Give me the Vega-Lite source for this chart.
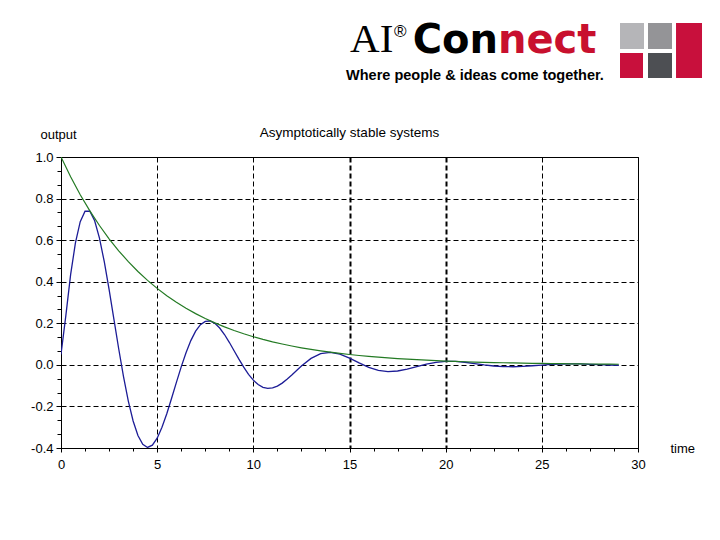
{
  "$schema": "https://vega.github.io/schema/vega-lite/v6.json",
  "width": 577,
  "height": 291,
  "autosize": "none",
  "padding": {"left": 61, "top": 157, "right": 82, "bottom": 92},
  "background": "white",
  "config": {
    "view": {"stroke": "black", "strokeWidth": 1},
    "axis": {
      "labelFont": "Liberation Sans", "labelFontSize": 13, "labelColor": "black",
      "domainColor": "black", "tickColor": "black", "gridColor": "black",
      "gridDash": [5, 3], "gridOpacity": 1, "titleFont": "Liberation Sans",
      "titleFontSize": 13, "titleFontWeight": "normal", "titleColor": "black"
    }
  },
  "datasets": {
    "blue": [
      {"time": 0, "output": 0.05}, {"time": 0.25, "output": 0.2353}, {"time": 0.5, "output": 0.4338},
      {"time": 0.75, "output": 0.5867}, {"time": 1.0, "output": 0.6889}, {"time": 1.25, "output": 0.7391},
      {"time": 1.5, "output": 0.739}, {"time": 1.75, "output": 0.6934}, {"time": 2.0, "output": 0.6095},
      {"time": 2.25, "output": 0.4961}, {"time": 2.5, "output": 0.363}, {"time": 2.75, "output": 0.2202},
      {"time": 3.0, "output": 0.0774}, {"time": 3.25, "output": -0.0565}, {"time": 3.5, "output": -0.1742},
      {"time": 3.75, "output": -0.27}, {"time": 4.0, "output": -0.34}, {"time": 4.25, "output": -0.3825},
      {"time": 4.5, "output": -0.3974}, {"time": 4.75, "output": -0.3864}, {"time": 5.0, "output": -0.3528},
      {"time": 5.25, "output": -0.3005}, {"time": 5.5, "output": -0.2349}, {"time": 5.75, "output": -0.1609},
      {"time": 6.0, "output": -0.0842}, {"time": 6.25, "output": -0.0095}, {"time": 6.5, "output": 0.0586},
      {"time": 6.75, "output": 0.1166}, {"time": 7.0, "output": 0.162}, {"time": 7.25, "output": 0.1931},
      {"time": 7.5, "output": 0.2093}, {"time": 7.75, "output": 0.2111}, {"time": 8.0, "output": 0.1998},
      {"time": 8.25, "output": 0.1772}, {"time": 8.5, "output": 0.1459}, {"time": 8.75, "output": 0.1086},
      {"time": 9.0, "output": 0.0681}, {"time": 9.25, "output": 0.0274}, {"time": 9.5, "output": -0.0112},
      {"time": 9.75, "output": -0.0455}, {"time": 10.0, "output": -0.0736}, {"time": 10.25, "output": -0.0944},
      {"time": 10.5, "output": -0.1078}, {"time": 10.75, "output": -0.1129}, {"time": 11.0, "output": -0.1108},
      {"time": 11.25, "output": -0.1022}, {"time": 11.5, "output": -0.0878}, {"time": 11.75, "output": -0.0692},
      {"time": 12.0, "output": -0.0487}, {"time": 12.5, "output": -0.0054}, {"time": 13.0, "output": 0.0312},
      {"time": 13.5, "output": 0.054}, {"time": 14.0, "output": 0.0602}, {"time": 14.5, "output": 0.0514},
      {"time": 15.0, "output": 0.0324}, {"time": 15.5, "output": 0.0093}, {"time": 16.0, "output": -0.0117},
      {"time": 16.5, "output": -0.0263}, {"time": 17.0, "output": -0.0321}, {"time": 17.5, "output": -0.0296},
      {"time": 18.0, "output": -0.0205}, {"time": 18.5, "output": -0.0084}, {"time": 19.0, "output": 0.0034},
      {"time": 19.5, "output": 0.0122}, {"time": 20.0, "output": 0.0167}, {"time": 20.5, "output": 0.0166},
      {"time": 21.0, "output": 0.0126}, {"time": 21.5, "output": 0.0064}, {"time": 22.0, "output": -0.0001},
      {"time": 22.5, "output": -0.0054}, {"time": 23.0, "output": -0.0085}, {"time": 23.5, "output": -0.0091},
      {"time": 24.0, "output": -0.0074}, {"time": 24.5, "output": -0.0044}, {"time": 25.0, "output": -0.0009},
      {"time": 25.5, "output": 0.0022}, {"time": 26.0, "output": 0.0042}, {"time": 26.5, "output": 0.0049},
      {"time": 27.0, "output": 0.0043}, {"time": 27.5, "output": 0.0028}, {"time": 28.0, "output": 0.001},
      {"time": 28.5, "output": -0.0007}, {"time": 29.0, "output": -0.002}
    ],
    "green": [
      {"time": 0, "output": 1}, {"time": 0.5, "output": 0.9048}, {"time": 1, "output": 0.8187},
      {"time": 1.5, "output": 0.7408}, {"time": 2, "output": 0.6703}, {"time": 2.5, "output": 0.6065},
      {"time": 3, "output": 0.5488}, {"time": 3.5, "output": 0.4966}, {"time": 4, "output": 0.4493},
      {"time": 4.5, "output": 0.4066}, {"time": 5, "output": 0.3679}, {"time": 5.5, "output": 0.3329},
      {"time": 6, "output": 0.3012}, {"time": 6.5, "output": 0.2725}, {"time": 7, "output": 0.2466},
      {"time": 7.5, "output": 0.2231}, {"time": 8, "output": 0.2019}, {"time": 8.5, "output": 0.1827},
      {"time": 9, "output": 0.1653}, {"time": 9.5, "output": 0.1496}, {"time": 10, "output": 0.1353},
      {"time": 10.5, "output": 0.1225}, {"time": 11, "output": 0.1108}, {"time": 11.5, "output": 0.1003},
      {"time": 12, "output": 0.0907}, {"time": 12.5, "output": 0.0821}, {"time": 13, "output": 0.0743},
      {"time": 13.5, "output": 0.0672}, {"time": 14, "output": 0.0608}, {"time": 14.5, "output": 0.055},
      {"time": 15, "output": 0.0498}, {"time": 15.5, "output": 0.045}, {"time": 16, "output": 0.0408},
      {"time": 16.5, "output": 0.0369}, {"time": 17, "output": 0.0334}, {"time": 17.5, "output": 0.0302},
      {"time": 18, "output": 0.0273}, {"time": 18.5, "output": 0.0247}, {"time": 19, "output": 0.0224},
      {"time": 19.5, "output": 0.0202}, {"time": 20, "output": 0.0183}, {"time": 20.5, "output": 0.0166},
      {"time": 21, "output": 0.015}, {"time": 21.5, "output": 0.0136}, {"time": 22, "output": 0.0123},
      {"time": 22.5, "output": 0.0111}, {"time": 23, "output": 0.0101}, {"time": 23.5, "output": 0.0091},
      {"time": 24, "output": 0.0082}, {"time": 24.5, "output": 0.0074}, {"time": 25, "output": 0.0067},
      {"time": 25.5, "output": 0.0061}, {"time": 26, "output": 0.0055}, {"time": 26.5, "output": 0.005},
      {"time": 27, "output": 0.0045}, {"time": 27.5, "output": 0.0041}, {"time": 28, "output": 0.0037},
      {"time": 28.5, "output": 0.0033}, {"time": 29, "output": 0.003}
    ]
  },
  "resolve": {"axis": {"x": "independent", "y": "independent"}},
  "layer": [
    {
      "data": {"name": "blue"},
      "mark": {"type": "line", "color": "#1c1c96", "strokeWidth": 1.3, "clip": true},
      "encoding": {
        "x": {"field": "time", "type": "quantitative",
          "scale": {"domain": [0, 30], "nice": false, "zero": false},
          "axis": {"orient": "bottom", "values": [0, 5, 10, 15, 20, 25, 30], "tickSize": 4, "labelPadding": 6,
            "format": "d", "labelFlush": false, "labelOverlap": false,
            "gridWidth": {"condition": {"test": "datum.value == 15 || datum.value == 20", "value": 2}, "value": 1},
            "title": "time", "titleAlign": "left", "titleBaseline": "alphabetic", "titleX": 609, "titleY": 4, "titleAngle": 0}},
        "y": {"field": "output", "type": "quantitative",
          "scale": {"domain": [-0.4, 1.0], "nice": false, "zero": false},
          "axis": {"orient": "left", "values": [-0.4, -0.2, 0, 0.2, 0.4, 0.6, 0.8, 1.0], "tickSize": 5, "labelPadding": 3,
            "labelFlush": false, "labelOverlap": false,
            "labelExpr": "replace(format(datum.value, '.1f'), '\u2212', '-')",
            "title": "output", "titleAngle": 0, "titleAlign": "left", "titleBaseline": "alphabetic", "titleX": -21, "titleY": -19}}
      }
    },
    {
      "data": {"name": "green"},
      "mark": {"type": "line", "color": "#237a23", "strokeWidth": 1.2, "clip": true},
      "encoding": {
        "x": {"field": "time", "type": "quantitative",
          "axis": {"orient": "bottom", "values": [1.25, 2.5, 3.75, 6.25, 7.5, 8.75, 11.25, 12.5, 13.75, 16.25, 17.5, 18.75, 21.25, 22.5, 23.75, 26.25, 27.5, 28.75],
            "tickSize": 3, "labels": false, "grid": false, "domain": false, "title": null}},
        "y": {"field": "output", "type": "quantitative",
          "axis": {"orient": "left", "values": [-0.3333, -0.2667, -0.1333, -0.0667, 0.0667, 0.1333, 0.2667, 0.3333, 0.4667, 0.5333, 0.6667, 0.7333, 0.8667, 0.9333],
            "tickSize": 4, "labels": false, "grid": false, "domain": false, "title": null}}
      }
    },
    {
      "data": {"values": [{}]},
      "mark": {"type": "text", "text": "Asymptotically stable systems", "align": "center", "baseline": "alphabetic", "font": "Liberation Sans", "fontSize": 13.5, "color": "black", "clip": false},
      "encoding": {"x": {"datum": 15.0, "type": "quantitative", "axis": null}, "y": {"datum": 1.0962, "type": "quantitative", "axis": null}}
    },
    {
      "data": {"values": [{}]},
      "mark": {"type": "text", "text": "AI", "align": "left", "baseline": "alphabetic", "font": "Liberation Serif", "fontSize": 41, "color": "black", "clip": false},
      "encoding": {"x": {"datum": 15.03, "type": "quantitative", "axis": null}, "y": {"datum": 1.5051, "type": "quantitative", "axis": null}}
    },
    {
      "data": {"values": [{}]},
      "mark": {"type": "text", "text": "\u00ae", "align": "left", "baseline": "alphabetic", "font": "Liberation Sans", "fontSize": 17, "color": "black", "clip": false},
      "encoding": {"x": {"datum": 17.31, "type": "quantitative", "axis": null}, "y": {"datum": 1.5773, "type": "quantitative", "axis": null}}
    },
    {
      "data": {"values": [{}]},
      "mark": {"type": "text", "text": "Con", "align": "right", "baseline": "alphabetic", "font": "DejaVu Sans", "fontWeight": "bold", "fontSize": 40, "color": "black", "clip": false},
      "encoding": {"x": {"datum": 22.72, "type": "quantitative", "axis": null}, "y": {"datum": 1.5003, "type": "quantitative", "axis": null}}
    },
    {
      "data": {"values": [{}]},
      "mark": {"type": "text", "text": "nect", "align": "left", "baseline": "alphabetic", "font": "DejaVu Sans", "fontWeight": "bold", "fontSize": 40, "color": "#c8102e", "clip": false},
      "encoding": {"x": {"datum": 22.72, "type": "quantitative", "axis": null}, "y": {"datum": 1.5003, "type": "quantitative", "axis": null}}
    },
    {
      "data": {"values": [{}]},
      "mark": {"type": "text", "text": "Where people & ideas come together.", "align": "left", "baseline": "alphabetic", "font": "Liberation Sans", "fontWeight": "bold", "fontSize": 14.5, "color": "black", "clip": false},
      "encoding": {"x": {"datum": 14.82, "type": "quantitative", "axis": null}, "y": {"datum": 1.3704, "type": "quantitative", "axis": null}}
    },
    {
      "data": {"values": [{}]},
      "mark": {"type": "rect", "color": "#b5b5b8", "clip": false},
      "encoding": {"x": {"datum": 29.065, "type": "quantitative", "axis": null}, "x2": {"datum": 30.313}, "y": {"datum": 1.6447, "type": "quantitative", "axis": null}, "y2": {"datum": 1.5196}}
    },
    {
      "data": {"values": [{}]},
      "mark": {"type": "rect", "color": "#949497", "clip": false},
      "encoding": {"x": {"datum": 30.521, "type": "quantitative", "axis": null}, "x2": {"datum": 31.769}, "y": {"datum": 1.6447, "type": "quantitative", "axis": null}, "y2": {"datum": 1.5196}}
    },
    {
      "data": {"values": [{}]},
      "mark": {"type": "rect", "color": "#c8103c", "clip": false},
      "encoding": {"x": {"datum": 31.977, "type": "quantitative", "axis": null}, "x2": {"datum": 33.328}, "y": {"datum": 1.6447, "type": "quantitative", "axis": null}, "y2": {"datum": 1.3801}}
    },
    {
      "data": {"values": [{}]},
      "mark": {"type": "rect", "color": "#c8103c", "clip": false},
      "encoding": {"x": {"datum": 29.065, "type": "quantitative", "axis": null}, "x2": {"datum": 30.261}, "y": {"datum": 1.5003, "type": "quantitative", "axis": null}, "y2": {"datum": 1.3801}}
    },
    {
      "data": {"values": [{}]},
      "mark": {"type": "rect", "color": "#4d4f53", "clip": false},
      "encoding": {"x": {"datum": 30.521, "type": "quantitative", "axis": null}, "x2": {"datum": 31.769}, "y": {"datum": 1.5003, "type": "quantitative", "axis": null}, "y2": {"datum": 1.3801}}
    }
  ]
}
